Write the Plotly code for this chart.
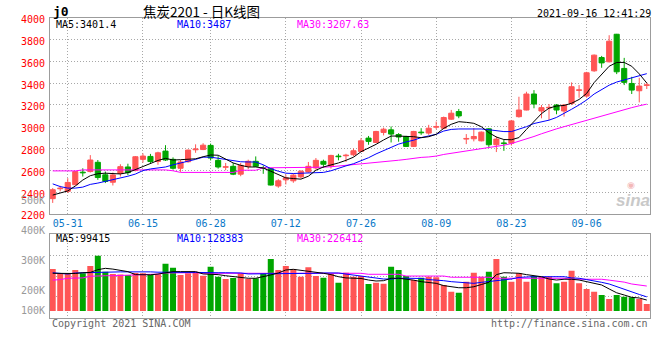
import plotly.graph_objects as go
import pandas as pd

# ---------------- data ----------------
holidays = ["2021-06-14"]
dates = [d.strftime("%Y-%m-%d") for d in pd.bdate_range("2021-05-27", "2021-09-16")
         if d.strftime("%Y-%m-%d") not in holidays]

tick_dates = ["2021-05-31", "2021-06-15", "2021-06-28", "2021-07-12",
              "2021-07-26", "2021-08-09", "2021-08-23", "2021-09-06"]
tick_labels = ["05-31", "06-15", "06-28", "07-12", "07-26", "08-09", "08-23", "09-06"]

opens = [2339, 2430, 2406, 2467, 2582, 2588, 2673, 2558, 2490, 2570,
         2630, 2597, 2700, 2727, 2680, 2776, 2700, 2618, 2678, 2788,
         2790, 2828, 2691, 2627, 2636, 2564, 2636, 2682, 2624, 2615,
         2455, 2512, 2503, 2539, 2585, 2621, 2682, 2639, 2730, 2733,
         2742, 2773, 2895, 2855, 2947, 2971, 2928, 2910, 2819, 2950,
         2941, 2995, 2986, 3069, 3139, 2886, 2889, 2870, 2980, 2834,
         2851, 2848, 3092, 3153, 3300, 3144, 3172, 3199, 3144, 3214,
         3333, 3281, 3513, 3635, 3596, 3849, 3535, 3397, 3330, 3379]
highs = [2436, 2457, 2527, 2590, 2618, 2739, 2694, 2588, 2579, 2655,
         2660, 2730, 2755, 2750, 2770, 2830, 2718, 2694, 2790, 2838,
         2848, 2845, 2730, 2667, 2667, 2667, 2697, 2727, 2645, 2621,
         2518, 2560, 2570, 2600, 2676, 2712, 2697, 2742, 2751, 2751,
         2800, 2895, 2915, 2962, 2992, 3002, 2941, 2916, 2962, 2986,
         3017, 3047, 3093, 3154, 3163, 2932, 2986, 2956, 2986, 2910,
         2879, 3062, 3275, 3321, 3336, 3199, 3208, 3208, 3208, 3407,
         3382, 3504, 3663, 3650, 3840, 3852, 3632, 3458, 3449, 3404]
lows = [2300, 2406, 2391, 2462, 2542, 2579, 2512, 2482, 2460, 2542,
        2555, 2590, 2670, 2660, 2650, 2685, 2606, 2585, 2670, 2760,
        2785, 2690, 2615, 2600, 2555, 2545, 2610, 2630, 2567, 2460,
        2439, 2470, 2485, 2524, 2578, 2606, 2621, 2615, 2691, 2676,
        2727, 2767, 2834, 2850, 2920, 2855, 2862, 2815, 2813, 2925,
        2925, 2977, 2977, 3063, 3078, 2840, 2865, 2865, 2810, 2767,
        2778, 2827, 3083, 3150, 3169, 3077, 3062, 3114, 3092, 3199,
        3266, 3266, 3504, 3541, 3590, 3483, 3382, 3300, 3223, 3346]
closes = [2421, 2436, 2488, 2588, 2576, 2694, 2533, 2497, 2557, 2633,
          2578, 2724, 2730, 2680, 2760, 2694, 2618, 2676, 2785, 2796,
          2830, 2712, 2630, 2633, 2564, 2645, 2682, 2636, 2618, 2464,
          2503, 2530, 2555, 2591, 2636, 2691, 2655, 2736, 2724, 2739,
          2779, 2870, 2865, 2956, 2977, 2932, 2905, 2819, 2956, 2944,
          2986, 3002, 3084, 3124, 3099, 2892, 2910, 2950, 2834, 2886,
          2845, 3053, 3153, 3300, 3208, 3175, 3178, 3153, 3199, 3367,
          3339, 3495, 3657, 3586, 3785, 3504, 3407, 3336, 3373, 3385]

ma5 = [2372, 2390, 2410, 2455, 2510, 2550, 2568, 2573, 2570, 2566,
       2578, 2605, 2633, 2664, 2690, 2709, 2694, 2697, 2700, 2705,
       2724, 2740, 2738, 2706, 2667, 2645, 2630, 2630, 2620, 2591,
       2561, 2530, 2524, 2518, 2545, 2600, 2630, 2645, 2667, 2691,
       2720, 2770, 2801, 2838, 2878, 2914, 2914, 2914, 2908, 2899,
       2908, 2930, 2985, 3022, 3046, 3040, 3031, 3000, 2945, 2905,
       2882, 2880, 2900, 2975, 3050, 3120, 3170, 3190, 3195, 3215,
       3250, 3305, 3405, 3480, 3555, 3590, 3590, 3555, 3485, 3401]
ma10 = [2475, 2450, 2436, 2436, 2445, 2470, 2482, 2497, 2510, 2530,
        2545, 2565, 2597, 2612, 2618, 2630, 2650, 2665, 2678, 2700,
        2720, 2720, 2710, 2700, 2685, 2678, 2676, 2676, 2650, 2615,
        2591, 2573, 2570, 2572, 2575, 2578, 2580, 2595, 2620, 2640,
        2660, 2684, 2715, 2750, 2780, 2810, 2840, 2860, 2876, 2900,
        2915, 2930, 2960, 2975, 2979, 2979, 2979, 2979, 2972, 2965,
        2955, 2955, 2975, 3000, 3029, 3045, 3060, 3085, 3120, 3160,
        3200, 3245, 3300, 3344, 3381, 3410, 3430, 3445, 3465, 3487]
ma30 = [2594, 2594, 2594, 2594, 2603, 2603, 2603, 2603, 2603, 2603,
        2603, 2603, 2603, 2603, 2603, 2603, 2595, 2580, 2580, 2580,
        2580, 2580, 2580, 2580, 2580, 2600, 2600, 2600, 2622, 2622,
        2622, 2622, 2622, 2622, 2622, 2626, 2628, 2632, 2638, 2645,
        2655, 2658, 2662, 2672, 2675, 2680, 2692, 2700, 2710, 2718,
        2722, 2730, 2745, 2755, 2765, 2775, 2785, 2795, 2805, 2815,
        2830, 2845, 2865, 2885, 2910, 2935, 2960, 2980, 3000, 3020,
        3040, 3060, 3080, 3100, 3120, 3140, 3160, 3175, 3192, 3207]

volumes = [381000, 342000, 342000, 372000, 342000, 408000, 502000, 356000, 336000, 330000,
           327000, 345000, 342000, 327000, 333000, 429000, 393000, 327000, 342000, 356000,
           320000, 402000, 311000, 290000, 300000, 342000, 290000, 297000, 342000, 472000,
           372000, 408000, 378000, 311000, 396000, 317000, 302000, 335000, 257000, 348000,
           311000, 317000, 245000, 257000, 248000, 402000, 372000, 317000, 281000, 302000,
           311000, 306000, 236000, 175000, 166000, 266000, 348000, 311000, 357000, 472000,
           311000, 266000, 342000, 266000, 317000, 311000, 311000, 251000, 266000, 366000,
           251000, 200000, 175000, 145000, 109000, 145000, 130000, 124000, 109000, 63000]
vol_ma5 = [342000, 340000, 336000, 340000, 347000, 350000, 375000, 387000, 380000, 366000,
           357000, 330000, 327000, 328000, 335000, 347000, 357000, 357000, 357000, 357000,
           336000, 333000, 330000, 320000, 311000, 300000, 297000, 297000, 310000, 327000,
           345000, 372000, 378000, 370000, 357000, 350000, 342000, 330000, 311000, 300000,
           297000, 295000, 281000, 272000, 275000, 297000, 297000, 290000, 280000, 266000,
           260000, 251000, 230000, 220000, 211000, 211000, 220000, 240000, 260000, 330000,
           347000, 345000, 342000, 330000, 320000, 311000, 290000, 281000, 288000, 288000,
           281000, 265000, 251000, 236000, 200000, 165000, 145000, 124000, 118000, 99415]
vol_ma10 = [347000, 338000, 335000, 345000, 347000, 350000, 355000, 355000, 355000, 355000,
            355000, 357000, 357000, 355000, 352000, 350000, 350000, 350000, 350000, 350000,
            347000, 347000, 347000, 347000, 345000, 345000, 336000, 336000, 336000, 340000,
            342000, 342000, 342000, 342000, 342000, 342000, 345000, 345000, 345000, 335000,
            327000, 318000, 311000, 300000, 290000, 290000, 297000, 297000, 297000, 295000,
            285000, 281000, 275000, 266000, 262000, 255000, 251000, 260000, 266000, 275000,
            281000, 290000, 305000, 311000, 311000, 311000, 311000, 311000, 311000, 300000,
            297000, 285000, 275000, 260000, 245000, 220000, 200000, 175000, 150000, 128383]
vol_ma30 = [280000, 285000, 297000, 297000, 300000, 315000, 320000, 320000, 320000, 322000,
            325000, 329000, 329000, 330000, 335000, 345000, 347000, 347000, 347000, 347000,
            342000, 342000, 342000, 342000, 342000, 342000, 342000, 338000, 338000, 338000,
            344000, 344000, 344000, 344000, 344000, 344000, 344000, 344000, 342000, 342000,
            342000, 342000, 333000, 333000, 333000, 333000, 333000, 317000, 317000, 317000,
            317000, 317000, 317000, 306000, 306000, 306000, 306000, 306000, 306000, 297000,
            297000, 297000, 297000, 297000, 297000, 297000, 297000, 297000, 297000, 288000,
            288000, 288000, 288000, 288000, 280000, 270000, 262000, 245000, 235000, 226412]

price_ma_labels = ["MA5:3401.4", "MA10:3487", "MA30:3207.63"]
vol_ma_labels = ["MA5:99415", "MA10:128383", "MA30:226412"]
vol_axis_labels = ["500K", "400K", "300K", "200K", "100K"]
title_code = "j0"
title_text = "焦炭2201 - 日K线图"
stamp_text = "2021-09-16 12:41:29"

# ---------------- style ----------------
RED = "#ff5555"
GREEN = "#00a600"
MONO = "DejaVu Sans Mono"
GRID = "#a8a8a8"
FRAME = "#9c9c9c"
W, H = 660, 360
ML, MR = 50, 10


def px_x(px):
    return (px - ML) / (W - ML - MR)


def px_y(py):
    return (H - py) / H


n = len(dates)
xs = list(range(n))
up = [c >= o for o, c in zip(opens, closes)]
colors = [RED if u else GREEN for u in up]

fig = go.Figure()

# wicks
for flag, col in ((True, RED), (False, GREEN)):
    wx, wy = [], []
    for i in range(n):
        if up[i] == flag:
            wx += [i, i, None]
            wy += [lows[i], highs[i], None]
    fig.add_trace(go.Scatter(x=wx, y=wy, mode="lines", line=dict(color=col, width=1),
                             hoverinfo="skip", xaxis="x", yaxis="y"))

# bodies
fig.add_trace(go.Bar(x=xs, base=[min(o, c) for o, c in zip(opens, closes)],
                     y=[abs(c - o) for o, c in zip(opens, closes)],
                     width=0.68, marker=dict(color=colors, line=dict(color=colors, width=1)),
                     hoverinfo="skip", xaxis="x", yaxis="y"))

for vals, col in ((ma30, "#ff00ff"), (ma10, "#0000ff"), (ma5, "#000000")):
    fig.add_trace(go.Scatter(x=xs, y=vals, mode="lines", line=dict(color=col, width=1),
                             hoverinfo="skip", xaxis="x", yaxis="y"))

# volume
fig.add_trace(go.Bar(x=xs, y=volumes, width=0.8, marker=dict(color=colors, line=dict(width=0)),
                     hoverinfo="skip", xaxis="x2", yaxis="y2"))
for vals, col in ((vol_ma30, "#ff00ff"), (vol_ma10, "#0000ff"), (vol_ma5, "#000000")):
    fig.add_trace(go.Scatter(x=xs, y=vals, mode="lines", line=dict(color=col, width=1),
                             hoverinfo="skip", xaxis="x2", yaxis="y2"))

# ---------------- layout ----------------
x_lo, x_hi = -0.36, 79.43
main_top, main_bot = 17.8, 213.8
vol_top, vol_bot = 234.3, 317.7
v_lo, v_hi = -60800, 695700

tickvals = [dates.index(d) for d in tick_dates]

axis_common = dict(showline=True, linecolor=FRAME, linewidth=1, mirror=True,
                   zeroline=False, showgrid=True, gridcolor=GRID, gridwidth=1,
                   griddash="1px,2px", ticks="", automargin=False, fixedrange=True)

fig.update_layout(
    width=W, height=H,
    margin=dict(l=ML, r=MR, t=0, b=0, autoexpand=False),
    paper_bgcolor="white", plot_bgcolor="white",
    showlegend=False, barmode="overlay",
    font=dict(family=MONO, size=10, color="#000"),
    xaxis=dict(domain=[0, 1], anchor="y", range=[x_lo, x_hi], tickmode="array",
               tickvals=tickvals, ticktext=tick_labels,
               tickfont=dict(family=MONO, size=10, color="#0a78c8"),
               ticklabelstandoff=0, **axis_common),
    yaxis=dict(domain=[px_y(main_bot), px_y(main_top)], anchor="x", range=[2200, 4000],
               tick0=2200, dtick=200,
               tickfont=dict(family=MONO, size=10, color="#ff0000"),
               ticklabelshift=2, ticklabelstandoff=2, **axis_common),
    xaxis2=dict(domain=[0, 1], anchor="y2", matches="x", range=[x_lo, x_hi], tickmode="array",
                tickvals=tickvals, showticklabels=False, **axis_common),
    yaxis2=dict(domain=[px_y(vol_bot), px_y(vol_top)], anchor="x2", range=[v_lo, v_hi],
                tick0=v_lo, dtick=(v_hi - v_lo) / 4, showticklabels=False, **axis_common),
)

ann = []


def text(s, x, y, color="#000", size=10, xanchor="left", family=MONO, bold=False, italic=False):
    t = f"<b>{s}</b>" if bold else s
    if italic:
        t = f"<i>{t}</i>"
    ann.append(dict(text=t, x=px_x(x), y=px_y(y), xref="paper", yref="paper",
                    xanchor=xanchor, yanchor="middle", showarrow=False,
                    font=dict(family=family, size=size, color=color)))


# header
text(title_code, 51, 11, size=13, bold=True)
text(title_text, 141, 11, size=13.5, family="Noto Sans CJK SC")
text(stamp_text, 653, 13.5, size=10, xanchor="right")

# MA legends
ma_cols = ["#000000", "#0000ff", "#ff00ff"]
for lab, x, col in zip(price_ma_labels, (54, 175, 295), ma_cols):
    text(lab, x, 24.5, color=col)
for lab, x, col in zip(vol_ma_labels, (54, 175, 295), ma_cols):
    text(lab, x, 238, color=col)

# volume axis labels
for lab, y in zip(vol_axis_labels, (200.5, 230.7, 260.7, 290.7, 310.7)):
    text(lab, 46.5, y, color="#999999", xanchor="right")

# footer
text("Copyright 2021 SINA.COM", 50, 323.5, color="#666666")
text("http://finance.sina.com.cn", 650, 323.5, color="#666666", xanchor="right")

# watermark
text("sina", 633, 200, color="#c9c9c9", size=17, xanchor="center",
     family="Liberation Sans", bold=True, italic=True)
text("◉", 631, 185, color="#f3b8b8", size=9, xanchor="center", family="DejaVu Sans")

fig.update_layout(annotations=ann)

fig.write_html("out.html", config={"displayModeBar": False},
               post_script="document.body.style.margin='0';document.body.style.overflow='hidden';")
